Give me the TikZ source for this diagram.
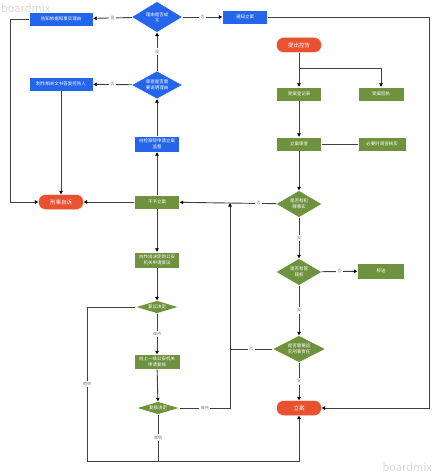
\documentclass[tikz,border=0pt]{standalone}
\usepackage{fontspec}
\setmainfont{Noto Sans CJK SC}
\usepackage{tikz}
\usetikzlibrary{shapes,arrows.meta,positioning}
\definecolor{flowblue}{RGB}{36,101,235}
\definecolor{flowgreen}{RGB}{110,146,62}
\definecolor{flowred}{RGB}{232,82,48}
\definecolor{flowline}{RGB}{64,64,64}

\begin{document}
\begin{tikzpicture}[
    x=1pt, y=-1pt,
    box/.style={rectangle, draw=white, line width=0.4pt, text=white, font=\fontsize{4.5}{5.6}\selectfont, align=center, minimum width=45, minimum height=14, inner sep=0},
    bluebox/.style={box, fill=flowblue},
    greenbox/.style={box, fill=flowgreen},
    term/.style={box, fill=flowred, rounded corners=7pt, minimum height=15, font=\fontsize{5.5}{6}\selectfont},
    dia/.style={diamond, draw=white, line width=0.4pt, inner sep=0, minimum width=50, minimum height=28},
    dtxt/.style={text=white, font=\fontsize{4.5}{5.6}\selectfont, align=center, inner sep=0},
    lbl/.style={fill=white, text=gray, font=\fontsize{4}{5}\selectfont, inner sep=1.5pt},
    line/.style={draw=flowline, line width=0.9pt},
    arr/.style={line, -{Triangle[length=3.5pt, width=3.5pt, color=black]}}
]
\useasboundingbox (0,0) rectangle (442,476);

% Watermarks
\node[text=gray!30, font=\fontsize{11}{11}\selectfont, anchor=west, inner sep=0] (markA) at (1,8) {boardmix};
\node[text=gray!30, font=\fontsize{11}{11}\selectfont, anchor=east, inner sep=0] (markB) at (432,467) {boardmix};

% Supervision branch (left)
\node[bluebox, minimum width=64] (inform) at (61,19) {告知依据和事实理由};
\node[dia, fill=flowblue, minimum width=51, minimum height=31, label={[dtxt]center:理由是否成\\立}] (reason) at (157,17) {};
\node[bluebox] (notify) at (245,17) {通知立案};
\node[dia, fill=flowblue, minimum width=51, minimum height=28, label={[dtxt]center:审查是否需\\要说明理由}] (review) at (157,85) {};
\node[bluebox, minimum width=64] (reply) at (61,84) {制作相关文书答复控告人};
\node[bluebox, minimum height=16] (supervise) at (157,144) {向检察院申请立案\\监督};
\node[term] (private) at (61,202) {刑事自诉};
\node[greenbox] (refuse) at (157,202) {不予立案};

% Reconsideration branch
\node[greenbox, minimum height=16] (reconsider) at (157,260) {向作出决定的公安\\机关申请复议};
\node[dia, fill=flowgreen, minimum width=43, minimum height=13, label={[dtxt]center:复议决定}] (recdec) at (157,307) {};
\node[greenbox, minimum width=46, minimum height=15] (recheck) at (157,362) {向上一级公安机关\\申请复核};
\node[dia, fill=flowgreen, minimum width=43, minimum height=13, label={[dtxt]center:复核决定}] (chkdec) at (158,408) {};

% Main flow (right)
\node[term] (accuse) at (299,45) {提出控告};
\node[greenbox] (register) at (299,94) {受案登记表};
\node[greenbox, minimum width=46] (receipt) at (381,94) {受案回执};
\node[greenbox] (filing) at (299,144) {立案审查};
\node[greenbox, minimum width=48] (verify) at (382,144) {必要时调查核实};
\node[dia, fill=flowgreen, minimum width=46, minimum height=27, label={[dtxt]center:是否有犯\\罪事实}] (crime) at (299,204) {};
\node[dia, fill=flowgreen, minimum width=46, minimum height=27, label={[dtxt]center:是否有管\\辖权}] (juris) at (299,272) {};
\node[greenbox, minimum width=47, minimum height=16] (transfer) at (381,271) {移送};
\node[dia, fill=flowgreen, minimum width=53, minimum height=27, label={[dtxt]center:是否需要追\\究刑事责任}] (liable) at (299,349) {};
\node[term] (open) at (299,408) {立案};

% Turning points
\coordinate (fork) at (381,68);
\coordinate (leftturn) at (10,202);
\coordinate (rightturn) at (429,408);
\coordinate (topjoin) at (230,203);
\coordinate (sidejoin) at (230,408);
\coordinate (botleft) at (87,461);
\coordinate (botmid) at (158,461);
\coordinate (botright) at (299,461);

% Arrows
\draw[arr] (accuse) -- (register);
\draw[arr] (accuse) |- (fork) -- (receipt);
\draw[arr] (register) -- (filing);
\draw[line] (filing) -- (verify);
\draw[arr] (filing) -- (crime);
\draw[arr] (crime) -- node[lbl]{是} (juris);
\draw[arr] (crime) -- node[lbl, pos=0.18]{否} (refuse);
\draw[arr] (juris) -- node[lbl]{否} (transfer);
\draw[arr] (juris) -- node[lbl]{是} (liable);
\draw[arr] (liable) -- node[lbl]{是} (open);
\draw[line] (liable) -- node[lbl]{否} (liable -| sidejoin);

\draw[arr] (refuse) -- (private);
\draw[arr] (refuse) -- (supervise);
\draw[arr] (supervise) -- (review);
\draw[arr] (review) -- node[lbl]{是} (reason);
\draw[arr] (review) -- node[lbl]{否} (reply);
\draw[arr] (reason) -- node[lbl]{是} (inform);
\draw[arr] (reason) -- node[lbl]{否} (notify);
\draw[arr] (notify) -| (rightturn) -- (open);
\draw[arr] (inform) -| (leftturn) -- (private);
\draw[arr] (reply) -- (private);

\draw[arr] (refuse) -- (reconsider);
\draw[arr] (reconsider) -- (recdec);
\draw[arr] (recdec) -- node[lbl]{维持} (recheck);
\draw[arr] (recheck) -- (chkdec);
\draw[arr] (recdec) -| node[lbl, pos=0.75]{撤销} (botleft) -- (botright) -- (open);
\draw[line] (chkdec) -- node[lbl]{撤销} (botmid);
\draw[arr] (chkdec) -- node[lbl]{维持} (sidejoin) -- (topjoin);

\end{tikzpicture}
\end{document}
